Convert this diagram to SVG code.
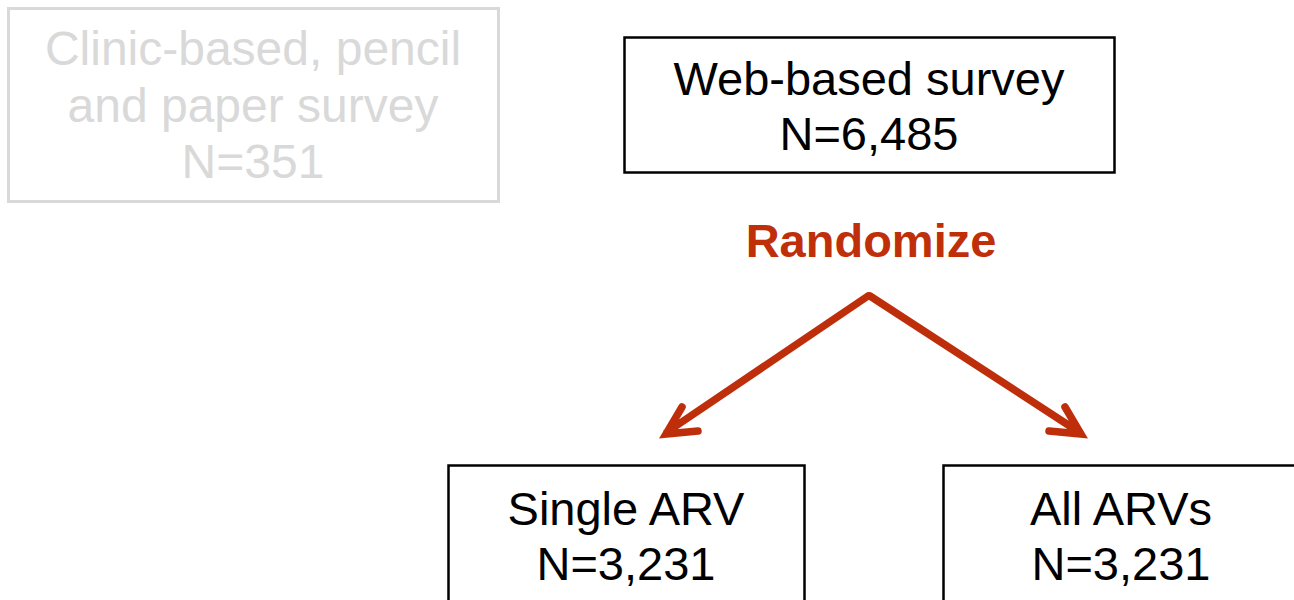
<svg xmlns="http://www.w3.org/2000/svg" width="1294" height="600" viewBox="0 0 1294 600">
<style>
text{font-family:"Liberation Sans",Arial,sans-serif;font-size:47px;text-anchor:middle}
.box{fill:#fff;stroke:#000;stroke-width:2.5}
.gbox{fill:#fff;stroke:#d9d9d9;stroke-width:3}
.gt{fill:#d9d9d9;font-size:48px}
.bt{fill:#000}
.arr{fill:none;stroke:#bf2e0a;stroke-width:7.5;stroke-linecap:round;stroke-linejoin:miter}
</style>
<rect width="1294" height="600" fill="#fff"/>
<g id="clinic">
<rect class="gbox" x="8.5" y="8.5" width="490" height="193"/>
<text class="gt" x="253" y="65">Clinic-based, pencil</text>
<text class="gt" x="253" y="122">and paper survey</text>
<text class="gt" x="253" y="178">N=351</text>
</g>
<g id="web">
<rect class="box" x="624.5" y="37.5" width="490" height="135"/>
<text class="bt" x="869" y="95">Web-based survey</text>
<text class="bt" x="869" y="150">N=6,485</text>
</g>
<g id="randomize">
<text x="871" y="257" style="font-weight:bold;fill:#bf300a">Randomize</text>
</g>
<g id="connectors">
<path class="arr" d="M868,296 L667,432 M682,407 L666,434 L698,431"/>
<path class="arr" d="M870,296 L1079,432 M1065,407 L1081,434 L1049,431"/>
</g>
<g id="single">
<rect class="box" x="448.5" y="465.5" width="356" height="150"/>
<text class="bt" x="626" y="525">Single ARV</text>
<text class="bt" x="626" y="580">N=3,231</text>
</g>
<g id="all">
<rect class="box" x="943.5" y="465.5" width="356" height="150"/>
<text class="bt" x="1121" y="525">All ARVs</text>
<text class="bt" x="1121" y="580">N=3,231</text>
</g>
</svg>
